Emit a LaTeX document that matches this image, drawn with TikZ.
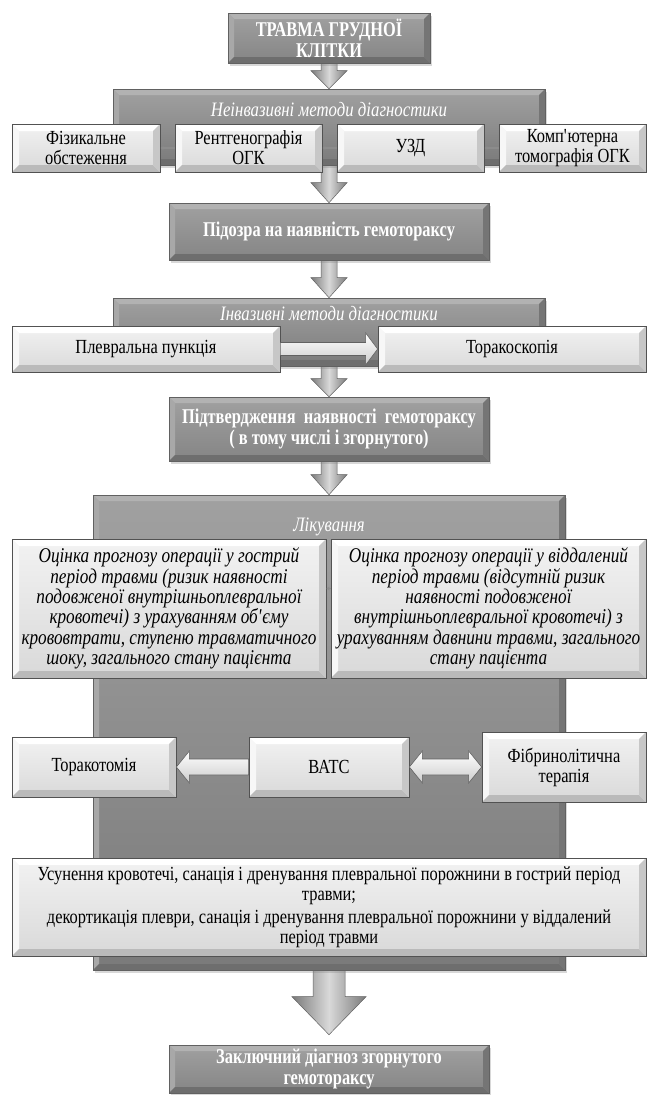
\documentclass[tikz,border=0pt]{standalone}
\usepackage{fontspec}
\setmainfont{Liberation Serif}[FakeStretch=0.82]
\newfontfamily\boldserif{Liberation Serif}[FakeStretch=0.78]
\usetikzlibrary{calc,shadows,arrows.meta}
\pgfdeclarelayer{bg}
\pgfsetlayers{bg,main}
\normallineskiplimit=-50pt
\lineskiplimit=-50pt
\tikzset{
  x=1pt,y=-1pt,
  bevel/.style n args={5}{path picture={
    \fill[#2] (path picture bounding box.north west) -- (path picture bounding box.north east)
      -- ([xshift=-#1,yshift=-#1]path picture bounding box.north east) -- ([xshift=#1,yshift=-#1]path picture bounding box.north west) -- cycle;
    \fill[#3] (path picture bounding box.north west) -- ([xshift=#1,yshift=-#1]path picture bounding box.north west)
      -- ([xshift=#1,yshift=#1]path picture bounding box.south west) -- (path picture bounding box.south west) -- cycle;
    \fill[#4] (path picture bounding box.south west) -- ([xshift=#1,yshift=#1]path picture bounding box.south west)
      -- ([xshift=-#1,yshift=#1]path picture bounding box.south east) -- (path picture bounding box.south east) -- cycle;
    \fill[#5] (path picture bounding box.north east) -- ([xshift=-#1,yshift=-#1]path picture bounding box.north east)
      -- ([xshift=-#1,yshift=#1]path picture bounding box.south east) -- (path picture bounding box.south east) -- cycle;
  }},
  basebox/.style={rectangle, inner sep=0pt, align=center},
  darkbox/.style={basebox, top color=black!37, bottom color=black!48, draw=black!62, line width=0.6pt,
    text=white, font=\boldserif\fontsize{21}{21}\selectfont\bfseries,
    drop shadow={opacity=0.3, shadow xshift=2pt, shadow yshift=-3pt},
    bevel={6pt}{black!30}{black!34}{black!57}{black!54}},
  groupbox/.style={darkbox, top color=black!37, bottom color=black!52},
  lightbox/.style={basebox, top color=black!5, bottom color=black!15, draw=black!68, line width=0.7pt,
    text=black, font=\fontsize{20}{20}\selectfont,
    bevel={7pt}{white}{black!3}{black!27}{black!22}},
  italbox/.style={lightbox, font=\fontsize{21}{20.3}\selectfont\itshape},
  gtitle/.style={inner sep=0pt, text=white, font=\fontsize{20.5}{20}\selectfont\itshape},
  downarr/.style={left color=black!52, right color=black!52, middle color=black!15, draw=black!62, line width=0.5pt},
  harr/.style={top color=white, bottom color=black!20, draw=black!62, line width=0.6pt},
  tinyc/.style={draw=black!45, line width=1.2pt, -{Latex[length=3pt,width=4pt]}},
}
\newcommand\arrdown[5]{%
  \path[downarr] ($(#1)+(-#3,0)$) -- ($(#2)+(-#3,-#5)$) -- ($(#2)+(-#4,-#5)$) -- (#2)
    -- ($(#2)+(#4,-#5)$) -- ($(#2)+(#3,-#5)$) -- ($(#1)+(#3,0)$) -- cycle;}
\newcommand\arrright[5]{%
  \path[harr] ($(#1)+(0,-#3)$) -- ($(#2)+(-#5,-#3)$) -- ($(#2)+(-#5,-#4)$) -- (#2)
    -- ($(#2)+(-#5,#4)$) -- ($(#2)+(-#5,#3)$) -- ($(#1)+(0,#3)$) -- cycle;}
\newcommand\arrleft[5]{%
  \path[harr] ($(#1)+(0,-#3)$) -- ($(#2)+(#5,-#3)$) -- ($(#2)+(#5,-#4)$) -- (#2)
    -- ($(#2)+(#5,#4)$) -- ($(#2)+(#5,#3)$) -- ($(#1)+(0,#3)$) -- cycle;}
\newcommand\arrboth[5]{%
  \path[harr] (#1) -- ($(#1)+(#5,-#4)$) -- ($(#1)+(#5,-#3)$) -- ($(#2)+(-#5,-#3)$) -- ($(#2)+(-#5,-#4)$)
    -- (#2) -- ($(#2)+(-#5,#4)$) -- ($(#2)+(-#5,#3)$) -- ($(#1)+(#5,#3)$) -- ($(#1)+(#5,#4)$) -- cycle;}
\begin{document}
\begin{tikzpicture}
\useasboundingbox (0,0) rectangle (647,1095);
\begin{pgfonlayer}{bg}
  \fill[white] (0,0) rectangle (647,1095);
\end{pgfonlayer}

% top
\node[darkbox, minimum width=202pt, minimum height=50pt] (trauma) at (329,38) {ТРАВМА ГРУДНОЇ\\КЛІТКИ};

% group 1
\node[groupbox, minimum width=432pt, minimum height=76pt] (g1) at (329,127) {};
\node[gtitle] (g1t) at (329,110) {Неінвазивні методи діагностики};
\node[lightbox, minimum width=148pt, minimum height=48pt] (fiz) at (86,148) {Фізикальне\\обстеження};
\node[lightbox, minimum width=147pt, minimum height=48pt] (rent) at (248.5,148) {Рентгенографія\\ОГК};
\node[lightbox, minimum width=147pt, minimum height=48pt] (uzd) at (410.5,148) {УЗД};
\node[lightbox, minimum width=147pt, minimum height=48pt] (komp) at (572.5,148) {Комп\textquotesingle ютерна\\томографія ОГК};
\draw[tinyc] (rent.west) -- (fiz.east);
\draw[tinyc] (uzd.west) -- (rent.east);
\draw[tinyc] (komp.west) -- (uzd.east);

% suspicion
\node[darkbox, minimum width=320pt, minimum height=57pt] (pidozra) at (329,231.5) {Підозра на наявність гемотораксу};

% group 2
\node[groupbox, minimum width=432pt, minimum height=68pt] (g2) at (329,332) {};
\node[gtitle] (g2t) at (329,314) {Інвазивні методи діагностики};
\node[lightbox, minimum width=268pt, minimum height=46pt] (pleur) at (146,349) {Плевральна пункція};
\node[lightbox, minimum width=268pt, minimum height=46pt] (thorsc) at (512,349) {Торакоскопія};
\arrright{pleur.east}{thorsc.west}{6.5}{16}{12}

% confirmation
\node[darkbox, minimum width=320pt, minimum height=64pt] (pidtv) at (329,429) {Підтвердження~ наявності~ гемотораксу\\( в тому числі і згорнутого)};

% group 3
\node[groupbox, minimum width=472pt, minimum height=475pt] (g3) at (329,732.5) {};
\node[gtitle] (g3t) at (329,527) {Лікування};
\node[italbox, minimum width=314pt, minimum height=139pt] (ocl) at (169,608.5)
  {Оцінка прогнозу операції у гострий\\період травми (ризик наявності\\подовженої внутрішньоплевральної\\кровотечі) з урахуванням об\textquotesingle єму\\крововтрати, ступеню травматичного\\шоку, загального стану пацієнта};
\node[italbox, minimum width=315pt, minimum height=139pt] (ocr) at (488.5,608.5)
  {Оцінка прогнозу операції у віддалений\\період травми (відсутній ризик\\наявності подовженої\\внутрішньоплевральної кровотечі) з\\урахуванням давнини травми, загального\\стану пацієнта};
\draw[tinyc, line width=0.8pt] ([yshift=20pt]ocr.west) -- ([yshift=20pt]ocl.east);

\node[lightbox, minimum width=164pt, minimum height=60pt] (tomy) at (94,767) {Торакотомія};
\node[lightbox, minimum width=160pt, minimum height=60pt] (vats) at (329,767) {ВАТС};
\node[lightbox, minimum width=164pt, minimum height=70pt] (fibr) at (564,767) {Фібринолітична\\терапія};
\arrleft{vats.west}{tomy.east}{8}{16}{13}
\arrboth{vats.east}{fibr.west}{8}{16}{13}

\node[lightbox, minimum width=634pt, minimum height=98pt] (usun) at (329,907)
  {Усунення кровотечі, санація і дренування плевральної порожнини в гострий період\\травми;\\[3pt]декортикація плеври, санація і дренування плевральної порожнини у віддалений\\період травми};

% final
\node[darkbox, minimum width=320pt, minimum height=48pt] (final) at (329,1069) {Заключний діагноз згорнутого\\гемотораксу};
\coordinate (a6tip) at ($(final.north)+(0,-10)$);

% down arrows
\begin{pgfonlayer}{bg}
  \arrdown{trauma.south}{g1.north}{8}{18}{18}
  \arrdown{g1.south}{pidozra.north}{8}{18}{20}
  \arrdown{pidozra.south}{g2.north}{8}{18}{20}
  \arrdown{g2.south}{pidtv.north}{8}{18}{18}
  \arrdown{pidtv.south}{g3.north}{8}{18}{20}
  \arrdown{g3.south}{a6tip}{16}{37}{38}
\end{pgfonlayer}
\end{tikzpicture}
\end{document}
